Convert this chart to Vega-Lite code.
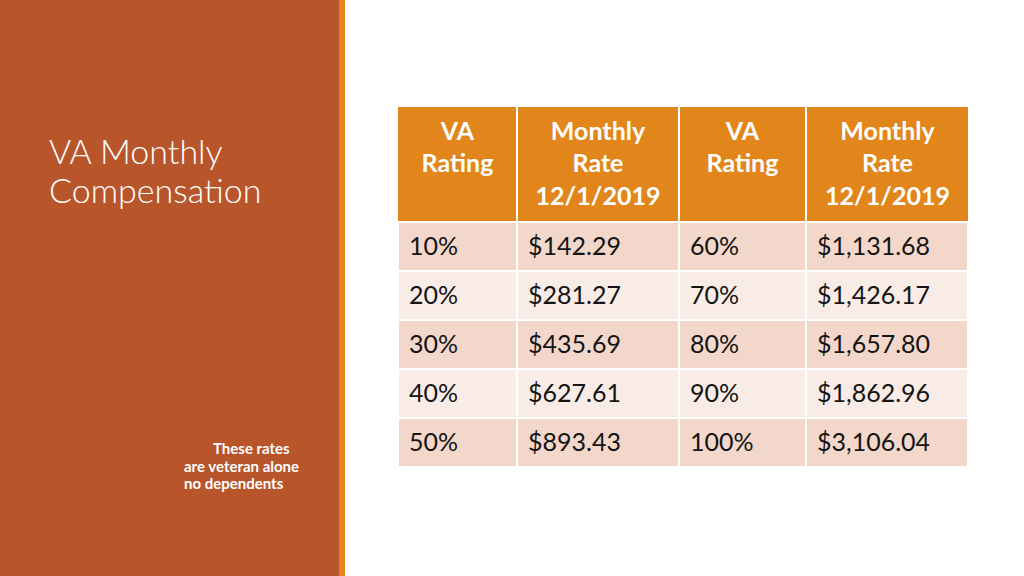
{
  "$schema": "https://vega.github.io/schema/vega-lite/v6.json",
  "padding": 0,
  "background": "#ffffff",
  "spacing": 0,
  "bounds": "flush",
  "config": {"view": {"stroke": null}, "concat": {"spacing": 0}},
  "resolve": {"scale": {"x": "independent", "y": "independent", "color": "independent"}},
  "datasets": {
    "titleLines": [
      {"line": 0, "text": "VA Monthly"},
      {"line": 1, "text": "Compensation"}
    ],
    "noteLines": [
      {"line": 0, "text": "These rates"},
      {"line": 1, "text": "are veteran alone"},
      {"line": 2, "text": "no dependents"}
    ],
    "header": [
      {"col": 0, "label": "VA\nRating"},
      {"col": 1, "label": "Monthly\nRate\n12/1/2019"},
      {"col": 2, "label": "VA\nRating"},
      {"col": 3, "label": "Monthly\nRate\n12/1/2019"}
    ],
    "cells": [
      {"row": 1, "col": 0, "text": "10%"}, {"row": 1, "col": 1, "text": "$142.29"}, {"row": 1, "col": 2, "text": "60%"}, {"row": 1, "col": 3, "text": "$1,131.68"},
      {"row": 2, "col": 0, "text": "20%"}, {"row": 2, "col": 1, "text": "$281.27"}, {"row": 2, "col": 2, "text": "70%"}, {"row": 2, "col": 3, "text": "$1,426.17"},
      {"row": 3, "col": 0, "text": "30%"}, {"row": 3, "col": 1, "text": "$435.69"}, {"row": 3, "col": 2, "text": "80%"}, {"row": 3, "col": 3, "text": "$1,657.80"},
      {"row": 4, "col": 0, "text": "40%"}, {"row": 4, "col": 1, "text": "$627.61"}, {"row": 4, "col": 2, "text": "90%"}, {"row": 4, "col": 3, "text": "$1,862.96"},
      {"row": 5, "col": 0, "text": "50%"}, {"row": 5, "col": 1, "text": "$893.43"}, {"row": 5, "col": 2, "text": "100%"}, {"row": 5, "col": 3, "text": "$3,106.04"}
    ]
  },
  "hconcat": [
    {
      "width": 339,
      "height": 576,
      "view": {"fill": "#B9552B", "stroke": null},
      "resolve": {"scale": {"x": "independent", "y": "independent"}},
      "layer": [
        {
          "data": {"name": "titleLines"},
          "mark": {"type": "text", "align": "left", "baseline": "alphabetic", "font": "Lato", "fontWeight": 300, "fontSize": 34, "fill": "#ffffff"},
          "encoding": {
            "x": {"datum": 0, "type": "quantitative", "scale": {"domain": [0, 1], "range": [49, 339]}, "axis": null},
            "y": {"field": "line", "type": "quantitative", "scale": {"domain": [0, 1], "range": [164, 203]}, "axis": null},
            "text": {"field": "text", "type": "nominal"}
          }
        },
        {
          "data": {"name": "noteLines"},
          "mark": {"type": "text", "align": "left", "baseline": "alphabetic", "font": "Lato", "fontWeight": "bold", "fontSize": 15, "fill": "#ffffff"},
          "encoding": {
            "x": {"field": "line", "type": "quantitative", "scale": {"domain": [0, 1, 2], "range": [213, 184, 184]}, "axis": null},
            "y": {"field": "line", "type": "quantitative", "scale": {"domain": [0, 2], "range": [454, 489]}, "axis": null},
            "text": {"field": "text", "type": "nominal"}
          }
        }
      ]
    },
    {
      "width": 6,
      "height": 576,
      "view": {"fill": "#E3871C", "stroke": null},
      "data": {"values": []},
      "mark": "point",
      "encoding": {}
    },
    {
      "width": 679,
      "height": 576,
      "view": {"fill": "#ffffff", "stroke": null},
      "resolve": {"scale": {"x": "independent", "y": "independent", "color": "independent"}},
      "layer": [
        {
          "data": {"name": "header"},
          "mark": {"type": "rect", "fill": "#E2861B"},
          "encoding": {
            "x": {"datum": 0, "type": "quantitative", "scale": {"domain": [0, 4], "range": [53, 623]}, "axis": null},
            "x2": {"datum": 4},
            "y": {"datum": 0, "type": "quantitative", "scale": {"domain": [0, 1], "range": [107, 222]}, "axis": null},
            "y2": {"datum": 1}
          }
        },
        {
          "data": {"name": "cells"},
          "transform": [{"filter": "datum.col == 0"}],
          "mark": {"type": "rect", "stroke": "#ffffff", "strokeWidth": 2},
          "encoding": {
            "x": {"datum": 0, "type": "quantitative", "scale": {"domain": [0, 4], "range": [53, 623]}, "axis": null},
            "x2": {"datum": 4},
            "y": {"field": "row", "type": "nominal", "scale": {"type": "band", "domain": [1, 2, 3, 4, 5], "range": [222, 467], "paddingInner": 0, "paddingOuter": 0}, "axis": null},
            "color": {"field": "row", "type": "nominal", "scale": {"domain": [1, 2, 3, 4, 5], "range": ["#F3D7CB", "#F9ECE7", "#F3D7CB", "#F9ECE7", "#F3D7CB"]}, "legend": null}
          }
        },
        {
          "data": {"name": "header"},
          "transform": [{"filter": "datum.col > 0"}],
          "mark": {"type": "rule", "stroke": "#ffffff", "strokeWidth": 2},
          "encoding": {
            "x": {"field": "col", "type": "quantitative", "scale": {"domain": [0, 1, 2, 3, 4], "range": [53, 172, 334, 461, 623]}, "axis": null},
            "y": {"datum": 0, "type": "quantitative", "scale": {"domain": [0, 1], "range": [107, 467]}, "axis": null},
            "y2": {"datum": 1}
          }
        },
        {
          "data": {"name": "header"},
          "mark": {"type": "text", "align": "center", "baseline": "alphabetic", "lineBreak": "\n", "lineHeight": 32.3, "font": "Lato", "fontWeight": "bold", "fontSize": 25, "fill": "#ffffff"},
          "encoding": {
            "x": {"field": "col", "type": "quantitative", "scale": {"domain": [0, 1, 2, 3], "range": [112.5, 253, 397.5, 542.5]}, "axis": null},
            "y": {"datum": 0, "type": "quantitative", "scale": {"domain": [0, 1], "range": [140, 172.3]}, "axis": null},
            "text": {"field": "label", "type": "nominal"}
          }
        },
        {
          "data": {"name": "cells"},
          "mark": {"type": "text", "align": "left", "baseline": "middle", "font": "Lato", "fontSize": 25, "fill": "#141414"},
          "encoding": {
            "x": {"field": "col", "type": "quantitative", "scale": {"domain": [0, 1, 2, 3], "range": [64, 183, 345, 472]}, "axis": null},
            "y": {"field": "row", "type": "nominal", "scale": {"type": "band", "domain": [1, 2, 3, 4, 5], "range": [222, 467], "paddingInner": 0, "paddingOuter": 0}, "axis": null},
            "text": {"field": "text", "type": "nominal"}
          }
        }
      ]
    }
  ]
}
